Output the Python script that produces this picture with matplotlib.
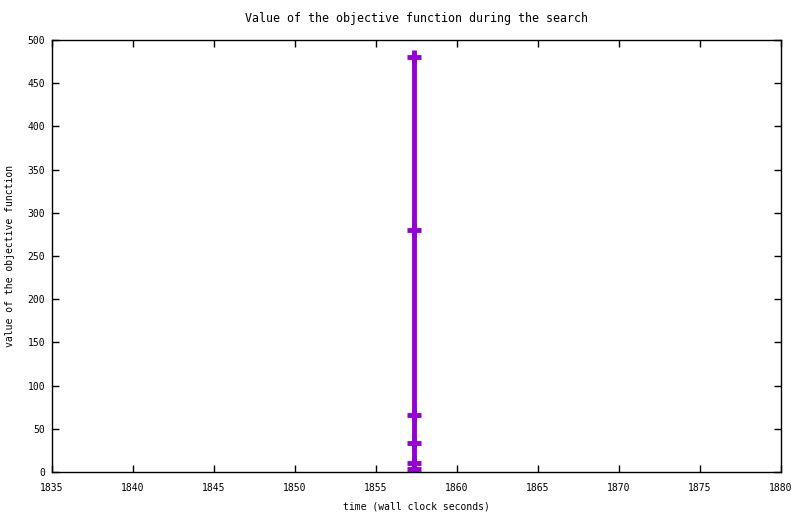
import matplotlib
matplotlib.use("Agg")
import matplotlib.pyplot as plt

# objective value over wall clock time
times = [1857.35, 1857.35, 1857.35, 1857.35, 1857.35, 1857.35]
values = [480, 280, 66, 33, 10, 3]

plt.rcParams['font.family'] = 'DejaVu Sans Mono'
plt.rcParams['font.size'] = 7

fig = plt.figure(figsize=(8, 5.14), dpi=100)
ax = fig.add_axes([0.065, 0.0817, 0.91125, 0.8405])

ax.plot(times, values, color='#9400D3', linewidth=3.5, marker='+',
        markersize=10, markeredgewidth=3.5, solid_capstyle='butt')

ax.set_xlim(1835, 1880)
ax.set_ylim(0, 500)
ax.set_xticks(range(1835, 1881, 5))
ax.set_yticks(range(0, 501, 50))
ax.tick_params(direction='in', top=True, right=True, length=5, width=1)
ax.tick_params(axis='x', pad=8)
ax.tick_params(axis='y', pad=5)
for s in ax.spines.values():
    s.set_linewidth(1)

ax.set_title('Value of the objective function during the search', pad=13)
ax.set_xlabel('time (wall clock seconds)', labelpad=6)
ax.set_ylabel('value of the objective function', labelpad=9)

fig.savefig('out.png', dpi=100)
